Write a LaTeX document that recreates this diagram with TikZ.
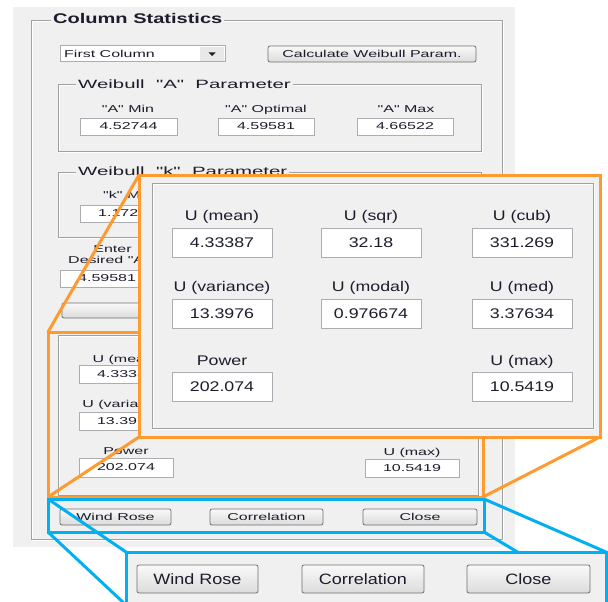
\documentclass[tikz,border=0pt]{standalone}
\usepackage{fontspec}
\setmainfont{Liberation Sans}
\newfontfamily\famS[FakeStretch=1.6]{Liberation Sans}
\newfontfamily\famG[FakeStretch=1.7]{Liberation Sans}
\newfontfamily\famM[FakeStretch=1.27]{Liberation Sans}
\newfontfamily\famB[FakeStretch=1.2]{Liberation Sans}
\newfontfamily\famT[FakeStretch=1.43]{Liberation Sans}
\newcommand\fS{\famS\fontsize{10}{11}\selectfont}
\newcommand\fG{\famG\fontsize{12}{13}\selectfont}
\newcommand\fM{\famM\fontsize{14}{16}\selectfont}
\newcommand\fB{\famB\fontsize{15}{17}\selectfont}
\newcommand\fT{\famT\bfseries\fontsize{14}{16}\selectfont}
\usetikzlibrary{shadings}
\definecolor{panel}{HTML}{F0F0F0}
\definecolor{etch}{HTML}{A0A0A0}
\definecolor{tbord}{HTML}{ABADB3}
\definecolor{bbord}{HTML}{707070}
\definecolor{ink}{HTML}{1C1C2C}
\definecolor{zorange}{HTML}{FF9A30}
\definecolor{zblue}{HTML}{00B0F0}
\tikzset{
  valb/.style={draw=tbord, fill=white, line width=1pt, inner sep=0pt, outer sep=0pt, text=ink},
  btn/.style={draw=bbord, line width=0.8pt, rounded corners=2pt, top color=white!60!panel, bottom color=black!14, inner sep=0pt, outer sep=0pt, text=ink},
  lbl/.style={anchor=base, inner sep=0pt, text=ink},
  gtitle/.style={anchor=base west, fill=panel, inner xsep=2pt, inner ysep=1pt, text=ink},
  etchline/.style={draw=etch, line width=1pt},
  hiline/.style={draw=white, line width=1pt},
  zoomO/.style={draw=zorange, line width=3pt},
  zoomB/.style={draw=zblue, line width=3pt},
}
\newcommand\valbox[7]{\node[valb,font=#7,minimum width={(#4-#2)*1pt},minimum height={(#5-#3)*1pt}] (#1) at ({(#2+#4)/2},{(#3+#5)/2}) {#6};}
\newcommand\uibtn[7]{\node[btn,font=#7,minimum width={(#4-#2)*1pt},minimum height={(#5-#3)*1pt}] (#1) at ({(#2+#4)/2},{(#3+#5)/2}) {#6};}
\begin{document}
\begin{tikzpicture}[x=1pt,y=-1pt]
\useasboundingbox (0,0) rectangle (608,602);
\fill[white] (0,0) rectangle (608,602);
\fill[panel] (13,7) rectangle (515,547);
% outer group
\draw[hiline] (32,22) rectangle (503,540);
\draw[etchline] (31,21) rectangle (502,539);
\node[gtitle,font=\fT] (title) at (51,24) {Column Statistics};
% dropdown
\valbox{dd}{60}{46}{225}{62}{}{\fS}
\node[fill=black!9, minimum width=24pt, minimum height=14pt, inner sep=0pt] (ddbtn) at (212,54) {};
\fill[ink] (208.5,52.5) -- (215.5,52.5) -- (212,56) -- cycle;
\node[anchor=base west, font=\fS, text=ink, inner sep=0pt] (ddtext) at (64,57.5) {First Column};
\uibtn{calc}{268}{46}{476}{62}{Calculate Weibull Param.}{\fS}
% Weibull A
\draw[hiline] (59,86) rectangle (482,152);
\draw[etchline] (58,85) rectangle (481,151);
\node[gtitle,font=\fG] (gA) at (76,88.5) {Weibull\ \ "A"\ \ Parameter};
\node[lbl,font=\fS] (lAmin) at (128,113) {"A" Min};
\node[lbl,font=\fS] (lAopt) at (266,113) {"A" Optimal};
\node[lbl,font=\fS] (lAmax) at (406,113) {"A" Max};
\valbox{vAmin}{80}{118}{177}{135}{4.52744}{\fS}
\valbox{vAopt}{218}{118}{314}{135}{4.59581}{\fS}
\valbox{vAmax}{357}{118}{453}{135}{4.66522}{\fS}
% Weibull k
\draw[hiline] (59,173) rectangle (482,238);
\draw[etchline] (58,172) rectangle (481,237);
\node[gtitle,font=\fG] (gk) at (76,175.5) {Weibull\ \ "k"\ \ Parameter};
\node[lbl,font=\fS] (lkmin) at (128,198) {"k" Min};
\valbox{vkmin}{80}{205}{177}{222}{}{\fS}
\node[anchor=west, font=\fS, text=ink, inner sep=0pt] (vkmintext) at (98,213.5) {1.172};
% desired A
\node[lbl,font=\fS] (lenter) at (112.5,252) {Enter};
\node[lbl,font=\fS,anchor=base west] (ldes) at (68,263) {Desired "A"};
\valbox{vdes}{60}{270}{165}{287}{}{\fS}
\node[anchor=west, font=\fS, text=ink, inner sep=0pt] (vdestext) at (78,278.5) {4.59581};
\uibtn{bdes}{62}{303}{165}{318}{}{\fS}
% source of orange zoom
\draw[hiline] (59,336) rectangle (479,496);
\draw[etchline] (58,335) rectangle (478,495);
\node[lbl,font=\fS] (sl1) at (126,362) {U (mean)};
\node[lbl,font=\fS] (sl2) at (126,407) {U (variance)};
\node[lbl,font=\fS] (sl3) at (126,454) {Power};
\node[lbl,font=\fS] (sl4) at (412,455) {U (max)};
\valbox{sv1}{79}{365}{173}{383}{4.33387}{\fS}
\valbox{sv2}{79}{412}{173}{430}{13.3976}{\fS}
\valbox{sv3}{79}{458}{173}{477}{202.074}{\fS}
\valbox{sv4}{365}{459}{459}{477}{10.5419}{\fS}
% source buttons
\uibtn{sb1}{60}{509}{171}{525}{Wind Rose}{\fS}
\uibtn{sb2}{210}{509}{323}{525}{Correlation}{\fS}
\uibtn{sb3}{363}{509}{477}{525}{Close}{\fS}
% orange zoom
\coordinate (oS1) at (48,332);
\coordinate (oS2) at (483,332);
\coordinate (oS3) at (483,497);
\coordinate (oS4) at (48,497);
\coordinate (oZ1) at (139,175);
\coordinate (oZ2) at (600,175);
\coordinate (oZ3) at (600,437);
\coordinate (oZ4) at (139,437);
\draw[zoomO] (oS1) rectangle (oS3);
\draw[zoomO] (oS1) -- (oZ1);
\draw[zoomO] (oS2) -- (oZ2);
\draw[zoomO] (oS3) -- (oZ3);
\draw[zoomO] (oS4) -- (oZ4);
\draw[zoomO, fill=panel] (oZ1) rectangle (oZ3);
\draw[hiline] (153,184) rectangle (594,429);
\draw[etchline] (152,183) rectangle (593,428);
\node[lbl,font=\fM] (zl1) at (222,220) {U (mean)};
\node[lbl,font=\fM] (zl2) at (371,220) {U (sqr)};
\node[lbl,font=\fM] (zl3) at (522,220) {U (cub)};
\node[lbl,font=\fM] (zl4) at (222,291) {U (variance)};
\node[lbl,font=\fM] (zl5) at (371,291) {U (modal)};
\node[lbl,font=\fM] (zl6) at (522,291) {U (med)};
\node[lbl,font=\fM] (zl7) at (222,365) {Power};
\node[lbl,font=\fM] (zl8) at (522,365) {U (max)};
\valbox{zv1}{172}{228}{272}{257}{4.33387}{\fM}
\valbox{zv2}{321}{228}{421}{257}{32.18}{\fM}
\valbox{zv3}{472}{228}{572}{257}{331.269}{\fM}
\valbox{zv4}{172}{299}{272}{328}{13.3976}{\fM}
\valbox{zv5}{321}{299}{421}{328}{0.976674}{\fM}
\valbox{zv6}{472}{299}{572}{328}{3.37634}{\fM}
\valbox{zv7}{172}{372}{272}{401}{202.074}{\fM}
\valbox{zv8}{472}{372}{572}{401}{10.5419}{\fM}
% blue zoom
\coordinate (bS1) at (48,499);
\coordinate (bS2) at (484,499);
\coordinate (bS3) at (484,532);
\coordinate (bS4) at (48,532);
\coordinate (bZ1) at (126,552);
\coordinate (bZ2) at (606,552);
\coordinate (bZ3) at (606,605);
\coordinate (bZ4) at (126,605);
\draw[zoomB] (bS1) rectangle (bS3);
\draw[zoomB] (bS1) -- (bZ1);
\draw[zoomB] (bS2) -- (bZ2);
\draw[zoomB] (bS3) -- (bZ3);
\draw[zoomB] (bS4) -- (bZ4);
\draw[zoomB, fill=panel] (bZ1) rectangle (bZ3);
\uibtn{zb1}{137}{565}{258}{593}{Wind Rose}{\fB}
\uibtn{zb2}{302}{565}{424}{593}{Correlation}{\fB}
\uibtn{zb3}{467}{565}{590}{593}{Close}{\fB}
\end{tikzpicture}
\end{document}
